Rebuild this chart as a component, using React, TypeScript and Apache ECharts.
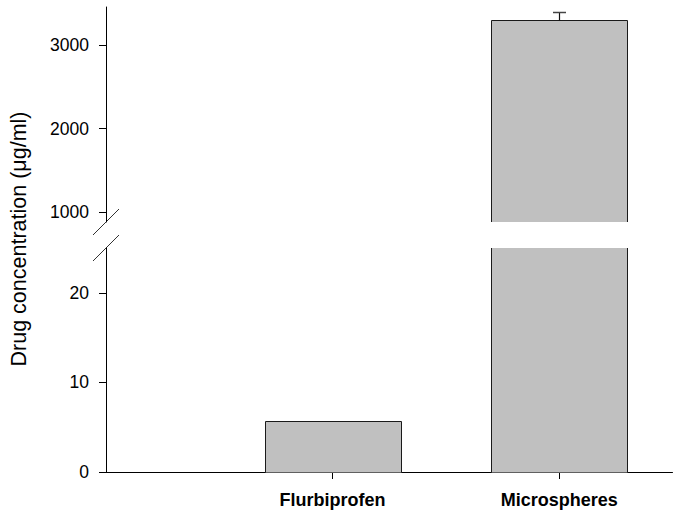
import React, { useEffect, useRef } from "react";
import * as echarts from "echarts";

// ---- data ----
const categories = ["Flurbiprofen", "Microspheres"];
const means = [5.7, 3300];
const errors = [0, 95];
const lowerTicks = [0, 10, 20];
const upperTicks = [1000, 2000, 3000];
const lowerRange = [0, 25];
const upperRange = [884, 3454];
const xRange = [0, 2.5];
const categoryPositions = [1, 2];
const yTitle = "Drug concentration (\u03bcg/ml)";

const BAR_HALF = 0.3;
const FILL = "#c0c0c0";
const EDGE = "#1a1a1a";

function makeRender(yMin: number, yMax: number) {
  return (params: any, api: any) => {
    const x = api.value(0);
    const v = api.value(1);
    const e = api.value(2);
    if (v <= yMin) return null;
    const clippedTop = v > yMax;
    const clippedBottom = yMin > 0;
    const top = Math.min(v, yMax);
    const pl = api.coord([x - BAR_HALF, yMin]);
    const pr = api.coord([x + BAR_HALF, top]);
    const xl = Math.round(pl[0]) + 0.5;
    const yb = Math.round(pl[1]) + (clippedBottom ? 0 : 0.5);
    const xr = Math.round(pr[0]) + 0.5;
    const yt = Math.round(pr[1]) + (clippedTop ? 0 : 0.5);
    const children: any[] = [
      {
        type: "rect",
        shape: { x: xl, y: yt, width: xr - xl, height: yb - yt },
        style: { fill: FILL },
      },
    ];
    const ls = { stroke: EDGE, lineWidth: 1, fill: null };
    if (clippedTop) {
      children.push({ type: "line", shape: { x1: xl, y1: yb, x2: xl, y2: yt }, style: ls });
      children.push({ type: "line", shape: { x1: xr, y1: yb, x2: xr, y2: yt }, style: ls });
    } else {
      children.push({
        type: "polyline",
        shape: { points: [[xl, yb], [xl, yt], [xr, yt], [xr, yb]] },
        style: ls,
      });
      if (e > 0 && v + e <= yMax) {
        const pc = api.coord([x, v + e]);
        const xc = Math.round(pc[0]) + 0.5;
        const ye = Math.round(pc[1]) + 0.5;
        children.push({ type: "line", shape: { x1: xc, y1: yt, x2: xc, y2: ye }, style: { stroke: "#111", lineWidth: 1.2 } });
        children.push({ type: "line", shape: { x1: xc - 6.5, y1: ye, x2: xc + 6.5, y2: ye }, style: { stroke: "#444", lineWidth: 1.5 } });
      }
    }
    return { type: "group", children };
  };
}

export default function App() {
  const ref = useRef<HTMLDivElement>(null);
  useEffect(() => {
    if (!ref.current) return;
    const chart = echarts.init(ref.current, null, { renderer: "svg" });
    const data = categories.map((c, i) => [categoryPositions[i], means[i], errors[i]]);
    const labelStyle = {
      color: "#000",
      fontFamily: "Liberation Sans, Arial, sans-serif",
      fontSize: 17.5,
      formatter: (v: number) => String(v),
    };
    const axisLine = { show: true, lineStyle: { color: "#000", width: 1 } };
    chart.setOption({
      animation: false,
      backgroundColor: "#fff",
      grid: [
        { left: 106, right: 2.5, top: 7, height: 215 },
        { left: 106, right: 2.5, top: 248, height: 224 },
      ],
      xAxis: [
        { type: "value", gridIndex: 0, min: xRange[0], max: xRange[1], show: false },
        {
          type: "value",
          gridIndex: 1,
          min: xRange[0],
          max: xRange[1],
          axisLine,
          splitLine: { show: false },
          axisTick: { show: true, length: 7, customValues: categoryPositions, lineStyle: { color: "#000" } },
          axisLabel: {
            show: true,
            customValues: categoryPositions,
            margin: 19,
            formatter: (val: number) => {
              const i = categoryPositions.indexOf(val);
              return i >= 0 ? categories[i] : "";
            },
            color: "#000",
            fontFamily: "Liberation Sans, Arial, sans-serif",
            fontSize: 18,
            fontWeight: "bold",
          },
        },
      ],
      yAxis: [
        {
          type: "value",
          gridIndex: 0,
          min: upperRange[0],
          max: upperRange[1],
          axisLine,
          splitLine: { show: false },
          axisTick: { show: true, length: 7, customValues: upperTicks, lineStyle: { color: "#000" } },
          axisLabel: { show: true, customValues: upperTicks, margin: 17, ...labelStyle },
        },
        {
          type: "value",
          gridIndex: 1,
          min: lowerRange[0],
          max: lowerRange[1],
          axisLine,
          splitLine: { show: false },
          axisTick: { show: true, length: 7, customValues: lowerTicks, lineStyle: { color: "#000" } },
          axisLabel: { show: true, customValues: lowerTicks, margin: 17, ...labelStyle },
        },
      ],
      series: [
        {
          type: "custom",
          xAxisIndex: 0,
          yAxisIndex: 0,
          renderItem: makeRender(upperRange[0], upperRange[1]),
          data,
          clip: false,
        },
        {
          type: "custom",
          xAxisIndex: 1,
          yAxisIndex: 1,
          renderItem: makeRender(lowerRange[0], lowerRange[1]),
          data,
          clip: false,
        },
      ],
    });
    const pU = chart.convertToPixel({ xAxisIndex: 0, yAxisIndex: 0 }, [xRange[0], upperRange[0]]) as number[];
    const pL = chart.convertToPixel({ xAxisIndex: 1, yAxisIndex: 1 }, [xRange[0], lowerRange[1]]) as number[];
    const breakStyle = { stroke: "#333", lineWidth: 1 };
    chart.setOption({
      graphic: [
        {
          type: "line",
          shape: { x1: pU[0] - 13, y1: pU[1] + 13, x2: pU[0] + 13, y2: pU[1] - 13 },
          style: breakStyle,
        },
        {
          type: "line",
          shape: { x1: pL[0] - 13, y1: pL[1] + 13, x2: pL[0] + 13, y2: pL[1] - 13 },
          style: breakStyle,
        },
        {
          type: "text",
          x: 18.5,
          y: 239,
          rotation: Math.PI / 2,
          style: {
            text: yTitle,
            fill: "#000",
            font: "21.5px 'Liberation Sans', Arial, sans-serif",
            textAlign: "center",
            textVerticalAlign: "middle",
          },
        },
      ],
    });
    return () => chart.dispose();
  }, []);
  return <div ref={ref} style={{ width: 675, height: 512, position: "absolute", left: 0, top: 0 }} />;
}
